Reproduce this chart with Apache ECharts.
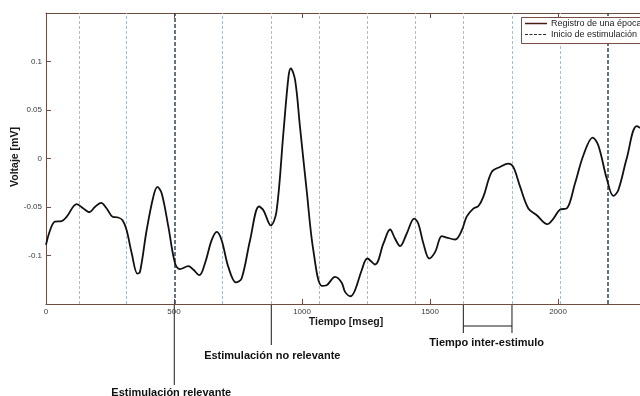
<!DOCTYPE html>
<html>
<head>
<meta charset="utf-8">
<script src="https://cdn.jsdelivr.net/npm/echarts@6/dist/echarts.min.js"></script>
<style>
  html, body { margin: 0; padding: 0; background: #ffffff; }
  #chart { width: 640px; height: 396px; }
</style>
</head>
<body>
<div id="chart"></div>
<script>
// One EEG epoch: time (ms) and voltage (mV)
const timeMs = [
  0, 16, 35, 61, 81, 120, 146, 169, 191, 215, 237, 260, 282, 299, 315, 335, 357, 367,
  393, 419, 435, 452, 478, 504, 523, 556, 575, 599, 621, 647, 667, 686, 712, 742, 764,
  797, 832, 849, 878, 900, 927, 947, 956, 973, 992, 1018, 1044, 1077, 1096, 1129, 1155,
  1168, 1190, 1207, 1233, 1255, 1285, 1318, 1344, 1363, 1383, 1409, 1438, 1454, 1474,
  1497, 1520, 1546, 1565, 1598, 1624, 1643, 1669, 1689, 1708, 1741, 1773, 1806, 1825,
  1852, 1884, 1917, 1958, 1982, 2008, 2034, 2066, 2099, 2135, 2157, 2190, 2216, 2235,
  2268, 2307, 2330
];
const voltage = [
  -0.089, -0.074, -0.065, -0.0646, -0.060, -0.047, -0.0515, -0.0554, -0.050, -0.0458,
  -0.0515, -0.060, -0.0608, -0.0636, -0.074, -0.098, -0.1186, -0.117,
  -0.074, -0.0396, -0.0293, -0.036, -0.0705, -0.108, -0.114, -0.111, -0.1145, -0.1203,
  -0.108, -0.0842, -0.0756, -0.0842, -0.1117, -0.1278, -0.1237,
  -0.0842, -0.0495, -0.0533, -0.069, -0.055, 0.0258, 0.0841, 0.0928, 0.0807, 0.0326,
  -0.0327, -0.0945, -0.1313, -0.1306, -0.122, -0.128,
  -0.1375, -0.142, -0.1358, -0.1152, -0.1031, -0.1093, -0.0876, -0.0732, -0.0825,
  -0.0904, -0.0773, -0.0619, -0.067, -0.0876,
  -0.1031, -0.0963, -0.080, -0.0815, -0.0835, -0.074, -0.060, -0.0516, -0.049, -0.0396,
  -0.0138, -0.0087, -0.0052, -0.0087,
  -0.0293, -0.0515, -0.0585, -0.0677, -0.0619, -0.0526, -0.0515, -0.0258, 0.0034,
  0.0216, 0.0137, -0.0206, -0.0386, -0.0327,
  0, 0.0333, 0.030
];

// Stimulus onsets (ms)
const otherOnsets = [128, 315, 690, 880, 1068, 1255, 1444, 1630, 1820, 2008];
const relevantOnsets = [501, 2195];

// Annotated events
const relevantMark = 501;
const nonRelevantMark = 880;
const interStimulus = [1630, 1820];

// Axis settings (visible window of the epoch)
const xRange = [0, 2320];
const xStep = 500;
const yRange = [-0.15, 0.15];
const yStep = 0.05;

const axisColor = '#6e4c42';
const tickFont = { fontFamily: 'Liberation Sans, Arial, sans-serif', fontSize: 8, color: '#3a3a3a' };

const chart = echarts.init(document.getElementById('chart'), null, { renderer: 'canvas' });

const stimLines = otherOnsets.map(v => ({
  xAxis: v,
  lineStyle: { color: '#a9bccb', type: [3, 2], width: 1 }
})).concat(relevantOnsets.map(v => ({
  xAxis: v,
  lineStyle: { color: '#33475a', type: [4, 2], width: 1.5 }
})));

const plainNumber = v => String(v);

chart.setOption({
  backgroundColor: '#ffffff',
  animation: false,
  grid: { left: 46, top: 13, right: 0, bottom: 92, containLabel: false },
  xAxis: [{
    type: 'value', min: xRange[0], max: xRange[1], interval: xStep,
    axisLine: { show: true, onZero: false, lineStyle: { color: axisColor, width: 1 } },
    axisTick: { show: true, inside: true, length: 5, lineStyle: { color: axisColor } },
    axisLabel: Object.assign({ margin: 4, showMaxLabel: false, formatter: plainNumber }, tickFont),
    splitLine: { show: false }
  }, {
    type: 'value', position: 'top', min: xRange[0], max: xRange[1], interval: xStep,
    axisLine: { show: true, onZero: false, lineStyle: { color: axisColor, width: 1 } },
    axisTick: { show: true, inside: true, length: 5, lineStyle: { color: axisColor } },
    axisLabel: { show: false },
    splitLine: { show: false }
  }],
  yAxis: {
    type: 'value', min: yRange[0], max: yRange[1], interval: yStep,
    axisLine: { show: true, onZero: false, lineStyle: { color: axisColor, width: 1 } },
    axisTick: { show: true, inside: true, length: 5, lineStyle: { color: axisColor } },
    axisLabel: Object.assign({ margin: 4, showMinLabel: false, showMaxLabel: false, formatter: plainNumber }, tickFont),
    splitLine: { show: false }
  },
  series: [{
    type: 'line',
    data: timeMs.map((t, i) => [t, voltage[i]]),
    smooth: 0.35,
    showSymbol: false,
    clip: true,
    lineStyle: { color: '#111111', width: 1.8 },
    z: 5,
    markLine: {
      silent: true,
      symbol: ['none', 'none'],
      label: { show: false },
      emphasis: { disabled: true },
      data: stimLines,
      z: 2
    }
  }]
});

// Annotations placed from the axis scales
const px = v => chart.convertToPixel({ xAxisIndex: 0 }, v);
const axisY = chart.convertToPixel({ yAxisIndex: 0 }, yRange[0]);
const ink = '#1a1a1a';
const boldFont = { fontFamily: 'Liberation Sans, Arial, sans-serif', fontSize: 11, fontWeight: 'bold', fill: '#111' };
const titleFont = { fontFamily: 'Liberation Sans, Arial, sans-serif', fontSize: 10.5, fontWeight: 'bold', fill: '#1a1a1a' };
const legendFont = { fontFamily: 'Liberation Sans, Arial, sans-serif', fontSize: 9, fill: '#222' };

const xRel = px(relevantMark);
const xNon = px(nonRelevantMark);
const xA = px(interStimulus[0]);
const xB = px(interStimulus[1]);

chart.setOption({
  graphic: [
    // axis titles
    { type: 'text', x: 346, y: 322, style: Object.assign({ text: 'Tiempo [mseg]', align: 'center', verticalAlign: 'middle' }, titleFont) },
    { type: 'text', x: 15, y: 157, rotation: Math.PI / 2, style: Object.assign({ text: 'Voltaje [mV]', align: 'center', verticalAlign: 'middle' }, titleFont) },

    // relevant stimulus callout
    { type: 'line', shape: { x1: xRel, y1: axisY, x2: xRel, y2: 385 }, style: { stroke: ink, lineWidth: 1 } },
    { type: 'text', x: xRel - 3, y: 387, style: Object.assign({ text: 'Estimulación relevante', align: 'center', verticalAlign: 'top' }, boldFont) },

    // non-relevant stimulus callout
    { type: 'line', shape: { x1: xNon, y1: axisY, x2: xNon, y2: 345 }, style: { stroke: ink, lineWidth: 1 } },
    { type: 'text', x: xNon + 1, y: 356, style: Object.assign({ text: 'Estimulación no relevante', align: 'center', verticalAlign: 'middle' }, boldFont) },

    // inter-stimulus bracket
    { type: 'line', shape: { x1: xA, y1: axisY, x2: xA, y2: 333 }, style: { stroke: ink, lineWidth: 1 } },
    { type: 'line', shape: { x1: xB, y1: axisY, x2: xB, y2: 333 }, style: { stroke: ink, lineWidth: 1 } },
    { type: 'line', shape: { x1: xA, y1: 326, x2: xB, y2: 326 }, style: { stroke: ink, lineWidth: 1 } },
    { type: 'text', x: (xA + xB) / 2 - 1, y: 343, style: Object.assign({ text: 'Tiempo inter-estimulo', align: 'center', verticalAlign: 'middle' }, boldFont) },

    // legend box
    { type: 'rect', shape: { x: 521.5, y: 17.5, width: 140, height: 26 }, style: { fill: '#ffffff', stroke: '#7a4e42', lineWidth: 1 }, z: 20 },
    { type: 'line', shape: { x1: 525, y1: 23.5, x2: 547, y2: 23.5 }, style: { stroke: '#4a1c12', lineWidth: 1.5 }, z: 21 },
    { type: 'text', x: 551, y: 24, style: Object.assign({ text: 'Registro de una época', align: 'left', verticalAlign: 'middle' }, legendFont), z: 21 },
    { type: 'line', shape: { x1: 525, y1: 34.5, x2: 547, y2: 34.5 }, style: { stroke: '#2e2a2a', lineWidth: 1, lineDash: [3, 1.5] }, z: 21 },
    { type: 'text', x: 551, y: 35, style: Object.assign({ text: 'Inicio de estimulación', align: 'left', verticalAlign: 'middle' }, legendFont), z: 21 }
  ]
});
</script>
</body>
</html>
